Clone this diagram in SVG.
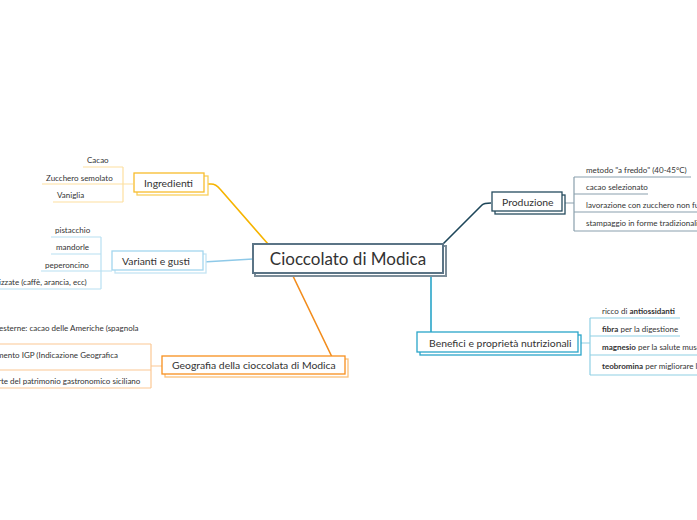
<svg xmlns="http://www.w3.org/2000/svg" width="697" height="520" viewBox="0 0 697 520">
<style>
text{font-family:Lato,"Open Sans",sans-serif;fill:#333}
.lbl{font-size:10.4px}
.sm{font-size:8px}
.box{fill:#fff;stroke-width:1.3}
.ln{fill:none;stroke-width:1.2}
.cn{fill:none;stroke-width:1.6}
</style>
<rect width="697" height="520" fill="#fff"/>
<g id="connectors">
<path class="cn" stroke="#f6b400" d="M204,184 H211 Q216,184 220,189 L268,244"/>
<path class="cn" stroke="#8ec9e8" d="M203,262 L253,259"/>
<path class="cn" stroke="#f28c1c" d="M292,274 L332,357 Q336,366 342,366 H346"/>
<path class="cn" stroke="#1d4659" d="M443,244 L482,205 Q484,203 491,203"/>
<path class="cn" stroke="#2aa5c9" d="M431,274 V338 Q431,343 426,343 H418"/>
</g>
<g id="center">
<rect x="255" y="246" width="191" height="30" fill="#fff" stroke="#7c8d99" stroke-width="2"/>
<rect x="253" y="244" width="190" height="29" fill="#fff" stroke="#5b7486" stroke-width="2"/>
<text x="348" y="265" font-size="17" text-anchor="middle">Cioccolato di Modica</text>
</g>
<g id="ingredienti">
<g class="ln" stroke="#fde0a0">
<path d="M123,167 V202 M83,167 H123 M42,184 H133 M53,202 H123"/>
</g>
<text class="sm" x="87" y="163">Cacao</text>
<text class="sm" x="46" y="181">Zucchero semolato</text>
<text class="sm" x="57" y="198">Vaniglia</text>
<rect class="box" x="137" y="176" width="71" height="19" stroke="#f9cf5c"/>
<rect class="box" x="134" y="173" width="70" height="19" stroke="#f8bc2c"/>
<text class="lbl" x="144" y="187">Ingredienti</text>
</g>
<g id="varianti">
<g class="ln" stroke="#b8e0f2">
<path d="M101,237 V289 M51,237 H101 M51,254 H101 M41,271 H112 M0,289 H101"/>
</g>
<text class="sm" x="55" y="233">pistacchio</text>
<text class="sm" x="56" y="250">mandorle</text>
<text class="sm" x="45" y="268">peperoncino</text>
<text class="sm" x="-1" y="285">izzate (caffè, arancia, ecc)</text>
<rect class="box" x="115" y="254" width="91" height="19" stroke="#c4e4f3"/>
<rect class="box" x="112" y="251" width="91" height="19" stroke="#a3d6ee"/>
<text class="lbl" x="122" y="265">Varianti e gusti</text>
</g>
<g id="geografia">
<g class="ln" stroke="#fcc894">
<path d="M151,344 V388 M0,344 H151 M0,370 H151 M151,366 H162 M0,388 H151"/>
</g>
<text class="sm" x="-1" y="331">esterne: cacao delle Americhe (spagnola</text>
<text class="sm" x="-3" y="358">mento IGP (Indicazione Geografica</text>
<text class="sm" x="-2" y="384">rte del patrimonio gastronomico siciliano</text>
<rect class="box" x="165" y="359" width="183" height="18" stroke="#fbc07a"/>
<rect class="box" x="162" y="356" width="183" height="18" stroke="#f8901e"/>
<text class="lbl" x="172" y="369">Geografia della cioccolata di Modica</text>
</g>
<g id="produzione">
<g class="ln" stroke="#8aa0ad">
<path d="M574,177 V231 M574,177 H691 M574,194 H648 M574,212 H697 M574,231 H697 M562,203 H574"/>
</g>
<text class="sm" x="586" y="173">metodo "a freddo" (40-45°C)</text>
<text class="sm" x="586" y="190">cacao selezionato</text>
<text class="sm" x="586" y="208">lavorazione con zucchero non fuso</text>
<text class="sm" x="586" y="226">stampaggio in forme tradizionali</text>
<rect class="box" x="495" y="195" width="70" height="19" stroke="#264c5f"/>
<rect class="box" x="492" y="192" width="70" height="19" stroke="#264c5f"/>
<text class="lbl" x="502" y="206">Produzione</text>
</g>
<g id="benefici">
<g class="ln" stroke="#8fd0e4">
<path d="M590,318 V375 M590,318 H680 M590,336 H680 M590,355 H697 M590,375 H697 M578,343 H590"/>
</g>
<text class="sm" x="602" y="314">ricco di <tspan font-weight="bold">antiossidanti</tspan></text>
<text class="sm" x="602" y="332"><tspan font-weight="bold">fibra</tspan> per la digestione</text>
<text class="sm" x="602" y="350"><tspan font-weight="bold">magnesio</tspan> per la salute muscolare</text>
<text class="sm" x="602" y="369"><tspan font-weight="bold">teobromina</tspan> per migliorare l'umore</text>
<rect class="box" x="420" y="335" width="161" height="20" stroke="#2aa5c9"/>
<rect class="box" x="417" y="332" width="161" height="20" stroke="#2aa5c9"/>
<text class="lbl" x="429" y="347">Benefici e proprietà nutrizionali</text>
</g>
</svg>
